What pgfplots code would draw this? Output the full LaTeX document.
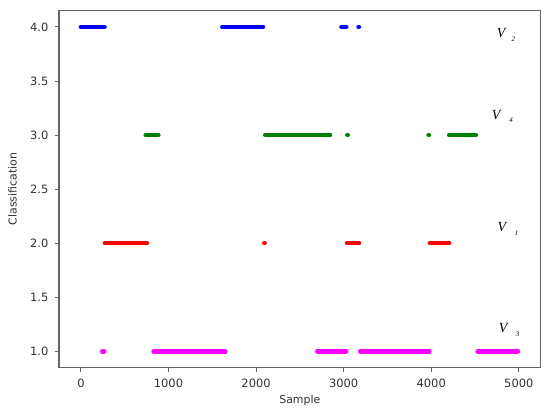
\documentclass[border=0pt]{standalone}
\usepackage{fontspec}
\setmainfont{DejaVu Sans}
\newfontfamily\vfont{Liberation Serif}
\usepackage{pgfplots}
\pgfplotsset{compat=1.18}
\usetikzlibrary{calc}

\definecolor{mgreen}{RGB}{0,128,0}
\definecolor{mmag}{RGB}{255,0,255}
\definecolor{spine}{RGB}{100,100,100}
\definecolor{txt}{RGB}{50,50,50}

\begin{document}
\begin{tikzpicture}
\begin{axis}[
    scale only axis,
    width=481.7bp, height=356.8bp,
    xmin=-250, xmax=5250,
    ymin=0.85, ymax=4.15,
    xtick={0,1000,...,5000},
    ytick={1,1.5,...,4},
    /pgf/number format/assume math mode=true,
    tick align=outside, tick pos=left,
    major tick length=4.5bp,
    axis line style={spine, line width=1.3bp},
    every tick/.style={spine, line width=0.9bp},
    tick label style={font=\fontsize{11.5}{13}\selectfont, txt, inner sep=0pt},
    yticklabel style={anchor=east, xshift=-6bp,
      /pgf/number format/fixed, /pgf/number format/fixed zerofill,
      /pgf/number format/precision=1},
    xticklabel style={anchor=north, yshift=-7bp,
      /pgf/number format/set thousands separator={}},
    xlabel={Sample}, ylabel={Classification},
    label style={font=\fontsize{11}{13}\selectfont, txt},
    xlabel style={at={(axis description cs:0.5,-0.093)}, anchor=center},
    ylabel style={at={(axis description cs:-0.0965,0.5)}, anchor=center},
    unbounded coords=jump,
    clip=false,
  ]
  % V2 -> class 4
  \addplot[blue, line width=4.5bp, line cap=round] coordinates {
    (0,4)(270,4) (300,nan)
    (1615,4)(2080,4) (2100,nan)
    (2975,4)(3030,4) (3050,nan)
    (3170,4)(3174,4)};
  % V4 -> class 3
  \addplot[mgreen, line width=4.5bp, line cap=round] coordinates {
    (740,3)(885,3) (900,nan)
    (2105,3)(2845,3) (2900,nan)
    (3042,3)(3046,3) (3050,nan)
    (3970,3)(3974,3) (3980,nan)
    (4205,3)(4510,3)};
  % V1 -> class 2
  \addplot[red, line width=4.5bp, line cap=round] coordinates {
    (275,2)(755,2) (800,nan)
    (2094,2)(2098,2) (2100,nan)
    (3040,2)(3175,2) (3200,nan)
    (3985,2)(4205,2)};
  % V3 -> class 1
  \addplot[mmag, line width=4.5bp, line cap=round] coordinates {
    (245,1)(265,1) (300,nan)
    (830,1)(1650,1) (1700,nan)
    (2700,1)(3030,1) (3100,nan)
    (3190,1)(3980,1) (4000,nan)
    (4530,1)(4990,1)};

  \node[font=\vfont\itshape\fontsize{14}{14}\selectfont] at (axis cs:4797,3.944) {V};
  \node[font=\vfont\itshape\fontsize{7}{7}\selectfont] at (axis cs:4937,3.886) {2};
  \node[font=\vfont\itshape\fontsize{14}{14}\selectfont] at (axis cs:4740,3.187) {V};
  \node[font=\vfont\itshape\fontsize{7}{7}\selectfont] at (axis cs:4911,3.141) {4};
  \node[font=\vfont\itshape\fontsize{14}{14}\selectfont] at (axis cs:4808,2.153) {V};
  \node[font=\vfont\itshape\fontsize{7}{7}\selectfont] at (axis cs:4976,2.094) {1};
  \node[font=\vfont\itshape\fontsize{14}{14}\selectfont] at (axis cs:4820,1.211) {V};
  \node[font=\vfont\itshape\fontsize{7}{7}\selectfont] at (axis cs:4987,1.155) {3};

  \coordinate (ll) at (rel axis cs:0,0);
  \coordinate (ur) at (rel axis cs:1,1);
\end{axis}
\pgfresetboundingbox
\path ($(ll)+(-59bp,-45.5bp)$) rectangle ($(ur)+(9.3bp,10.7bp)$);
\end{tikzpicture}
\end{document}
